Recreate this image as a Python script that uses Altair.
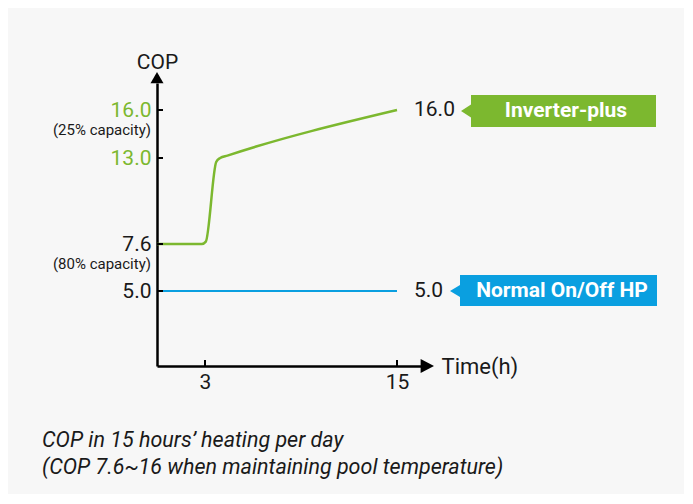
import altair as alt
import pandas as pd

GREEN = "#7cb82f"
BLUE = "#0a9fe0"
BG = "#f7f7f7"
FONT = "Roboto"

# ---- data ----
inv_x = [0, 2.8, 3.05, 3.7, 3.95, 4.4, 15]
inv_y = [7.6, 7.6, 7.75, 12.75, 13.0, 13.15, 16.0]
std_x = [0, 15]
std_y = [5.0, 5.0]
y_ticks = [5.0, 7.6, 13.0, 16.0]
x_ticks = [3, 15]
cap_values = [16.0, 7.6]
cap_labels = ["(25% capacity)", "(80% capacity)"]
series_names = ["Inverter-plus", "Normal On/Off HP"]
end_values = [16.0, 5.0]
X_MAX = 16.5
Y_MIN = 0.44
Y_MAX = 17.6

xscale = alt.Scale(domain=[0, X_MAX], nice=False, zero=False)
yscale = alt.Scale(domain=[Y_MIN, 5.0, 7.6, 13.0, 16.0, Y_MAX],
                   range=[283, 208, 161, 75, 27, 0], nice=False, zero=False)

xaxis = alt.Axis(values=x_ticks, ticks=False, grid=False, domainColor="black",
                 domainWidth=2.5, labelFontSize=21, labelFont=FONT, labelColor="#1a1a1a",
                 labelPadding=5, title="Time(h)", titleFont=FONT, titleFontSize=22,
                 titleFontWeight="normal", titleColor="#1a1a1a", titleAngle=0,
                 titleAlign="left", titleBaseline="middle", titleX=284, titleY=0)
yaxis = alt.Axis(values=y_ticks, format=".1f", ticks=False, grid=False, domainColor="black",
                 domainWidth=2.5, labelFontSize=21, labelFont=FONT,
                 labelColor={"condition": {"test": "datum.value >= 13", "value": GREEN},
                             "value": "#1a1a1a"},
                 labelPadding=6, title="COP", titleFont=FONT, titleFontSize=21,
                 titleFontWeight="normal", titleColor="#1a1a1a", titleAngle=0,
                 titleAlign="center", titleBaseline="alphabetic", titleX=0, titleY=-15)


def X():
    return alt.X("x:Q", scale=xscale, axis=xaxis)


def Y():
    return alt.Y("y:Q", scale=yscale, axis=yaxis)


inv_df = pd.DataFrame({"x": inv_x, "y": inv_y})
std_df = pd.DataFrame({"x": std_x, "y": std_y})

inv_line = alt.Chart(inv_df).mark_line(color=GREEN, strokeWidth=2.5,
                                       interpolate="monotone").encode(x=X(), y=Y())
std_line = alt.Chart(std_df).mark_line(color=BLUE, strokeWidth=2).encode(x=X(), y=Y())

# inward ticks
ytick_df = pd.DataFrame({"x": [0] * len(y_ticks), "y": y_ticks})
xtick_df = pd.DataFrame({"x": x_ticks, "y": [Y_MIN] * len(x_ticks)})
yticks = alt.Chart(ytick_df).mark_point(shape="M0,0L1,0", size=144, filled=False,
                                        stroke="black", strokeWidth=2, opacity=1).encode(x=X(), y=Y())
xticks = alt.Chart(xtick_df).mark_point(shape="M0,0L0,-1", size=144, filled=False,
                                        stroke="black", strokeWidth=2, opacity=1).encode(x=X(), y=Y())

# axis arrows
up_df = pd.DataFrame({"x": [0], "y": [Y_MAX]})
right_df = pd.DataFrame({"x": [X_MAX], "y": [Y_MIN]})
up_arrow = alt.Chart(up_df).mark_point(shape="M-1,0.05L1,0.05L0,-1.7Z", size=169, filled=True,
                                       fill="black", strokeWidth=0, opacity=1).encode(x=X(), y=Y())
right_arrow = alt.Chart(right_df).mark_point(shape="M-0.05,-1L-0.05,1L1.86,0Z", size=196, filled=True,
                                             fill="black", strokeWidth=0, opacity=1).encode(x=X(), y=Y())

# capacity notes
cap_df = pd.DataFrame({"x": [0, 0], "y": cap_values, "t": cap_labels})
cap_text = alt.Chart(cap_df).mark_text(align="right", baseline="middle", dx=-6, dy=20,
                                       font=FONT, fontSize=15, color="#1a1a1a").encode(
    x=X(), y=Y(), text="t:N")

# end value labels
end_df = pd.DataFrame({"x": [15, 15], "y": end_values,
                       "t": [f"{v:.1f}" for v in end_values]})
end_text = alt.Chart(end_df).mark_text(align="left", baseline="middle", dx=17,
                                       font=FONT, fontSize=21, color="#1a1a1a").encode(
    x=X(), y=Y(), text="t:N")

# tags
g_tag = alt.Chart(pd.DataFrame({"x": [15], "y": [end_values[0]]})).mark_point(
    shape="M0.64,0.01L0.74,-0.055L0.74,-0.15L2.59,-0.15L2.59,0.17L0.74,0.17L0.74,0.075Z",
    size=40000, filled=True, fill=GREEN, strokeWidth=0, opacity=1).encode(x=X(), y=Y())
b_tag = alt.Chart(pd.DataFrame({"x": [15], "y": [end_values[1]]})).mark_point(
    shape="M0.53,0L0.63,-0.06L0.63,-0.16L2.60,-0.16L2.60,0.15L0.63,0.15L0.63,0.06Z",
    size=40000, filled=True, fill=BLUE, strokeWidth=0, opacity=1).encode(x=X(), y=Y())
g_lbl = alt.Chart(pd.DataFrame({"x": [15], "y": [end_values[0]], "t": [series_names[0]]})).mark_text(
    align="center", baseline="middle", dx=169, dy=1, font=FONT, fontSize=21, fontWeight="bold",
    color="white").encode(x=X(), y=Y(), text="t:N")
b_lbl = alt.Chart(pd.DataFrame({"x": [15], "y": [end_values[1]], "t": [series_names[1]]})).mark_text(
    align="center", baseline="middle", dx=165, dy=0, font=FONT, fontSize=21, fontWeight="bold",
    color="white").encode(x=X(), y=Y(), text="t:N")

chart = alt.layer(std_line, inv_line, yticks, xticks, up_arrow, right_arrow,
                  cap_text, end_text, g_tag, b_tag, g_lbl, b_lbl).properties(
    width=264, height=283,
    autosize=alt.AutoSizeParams(type="none"),
    padding={"left": 149, "top": 75, "right": 263, "bottom": 128},
    background=BG,
    title=alt.TitleParams(
        text=["COP in 15 hours’ heating per day",
              "(COP 7.6~16 when maintaining pool temperature)"],
        orient="bottom", anchor="start", frame="group", dx=-115, offset=38,
        font=FONT, fontSize=21.5, fontStyle="italic", fontWeight="normal",
        color="#1a1a1a", lineHeight=27),
).configure_view(stroke=None)

chart.save("out.html", embed_options={"renderer": "svg", "actions": False})
